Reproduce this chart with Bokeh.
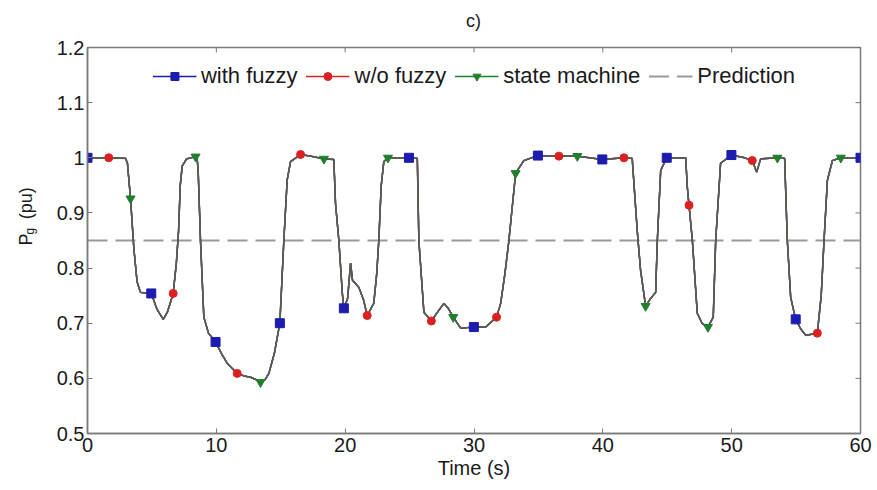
import numpy as np
from bokeh.plotting import figure
from bokeh.layouts import row, column
from bokeh.models import (Range1d, FixedTicker, Legend, LegendItem)
from bokeh.core.properties import value
from bokeh.embed import file_html
from bokeh.resources import INLINE

# ---- data -------------------------------------------------------------
time = [0, 1.65, 2.95, 3.1, 3.34, 3.6, 3.85, 4.11, 4.95, 5.4, 5.88, 6.2, 6.65, 6.9, 7.07, 7.2, 7.35, 7.69,
        8.39, 8.51, 8.6, 8.77, 9.03, 9.39, 9.94, 10.4, 10.85, 11.62, 12.2, 12.66, 13.05, 13.43, 13.8, 14.08,
        14.5, 14.93, 15.24, 15.5, 15.76, 16.54, 17.3, 18.35, 19.12, 19.25, 19.51, 19.78, 19.9, 20.19, 20.42,
        20.57, 21.06, 21.43, 21.71, 22.22, 22.45, 22.61, 22.8, 23.0, 23.32, 24.95, 25.6, 25.72, 26.11, 26.69,
        27.17, 27.66, 28.0, 28.39, 28.96, 29.99, 30.9, 31.75, 32.07, 32.4, 32.71, 33.23, 33.87, 34.96, 36.59,
        38.02, 39.96, 41.64, 42.28, 42.67, 42.93, 43.32, 43.71, 44.1, 44.23, 44.49, 44.96, 46.43, 46.56, 46.69,
        46.95, 47.33, 47.7, 48.16, 48.57, 48.76, 49.14, 49.98, 51.0, 51.6, 51.94, 52.25, 53.55, 54.11, 54.32,
        54.58, 54.97, 55.35, 55.75, 56.2, 56.65, 56.95, 57.17, 57.43, 57.82, 58.47, 60]
pg = [1.0, 1.0, 0.999, 0.99, 0.926, 0.835, 0.775, 0.756, 0.754, 0.725, 0.707, 0.72, 0.754, 0.81, 0.868, 0.95,
      0.985, 0.998, 1.002, 1.0, 0.97, 0.85, 0.711, 0.682, 0.666, 0.645, 0.627, 0.609, 0.604, 0.602, 0.598,
      0.593, 0.598, 0.609, 0.645, 0.70, 0.85, 0.96, 0.993, 1.006, 1.003, 0.998, 0.997, 0.917, 0.85, 0.754,
      0.727, 0.745, 0.809, 0.778, 0.765, 0.742, 0.714, 0.736, 0.79, 0.85, 0.95, 0.993, 1.0, 1.0, 0.999, 0.85,
      0.72, 0.704, 0.72, 0.736, 0.727, 0.711, 0.691, 0.693, 0.693, 0.711, 0.736, 0.79, 0.85, 0.972, 0.995,
      1.004, 1.003, 1.003, 0.997, 1.0, 0.999, 0.868, 0.796, 0.731, 0.745, 0.756, 0.85, 0.977, 1.0, 1.0, 0.946,
      0.914, 0.85, 0.718, 0.70, 0.693, 0.711, 0.85, 0.99, 1.005, 1.0, 0.995, 0.974, 0.998, 1.0, 0.999, 0.85,
      0.747, 0.707, 0.69, 0.678, 0.68, 0.682, 0.75, 0.85, 0.959, 0.995, 1.0, 1.0]

with_fuzzy_t = [0, 4.95, 9.94, 14.93, 19.9, 24.95, 29.99, 34.96, 39.96, 44.96, 49.98, 54.97, 60]
with_fuzzy_p = [1.0, 0.754, 0.666, 0.70, 0.727, 1.0, 0.693, 1.004, 0.997, 1.0, 1.005, 0.707, 1.0]
wo_fuzzy_t = [1.65, 6.65, 11.62, 16.54, 21.71, 26.69, 31.75, 36.59, 41.64, 46.69, 51.6, 56.65]
wo_fuzzy_p = [1.0, 0.754, 0.609, 1.006, 0.714, 0.704, 0.711, 1.003, 1.0, 0.914, 0.995, 0.682]
state_t = [3.34, 8.39, 13.43, 18.35, 23.32, 28.39, 33.23, 38.02, 43.32, 48.16, 53.55, 58.47]
state_p = [0.926, 1.002, 0.593, 0.998, 1.0, 0.711, 0.972, 1.003, 0.731, 0.693, 1.0, 1.0]
prediction = 0.85

x_ticks = [0, 10, 20, 30, 40, 50, 60]
y_ticks = [0.5, 0.6, 0.7, 0.8, 0.9, 1.0, 1.1, 1.2]

title_text = "c)"
# y-axis label pieces (P, subscript g, unit)
ylabel_parts = ["P", "g", "(pu)"]

# ---- styling ----------------------------------------------------------
FONT = "Liberation Sans"
TXT = "#1a1a1a"
AX = "#7a7a7a"
BLUE, RED, GREEN, GRAY = "#1c1cb0", "#dc2020", "#1f7f2a", "#9a9a9a"
X0, X1, Y0, Y1 = 0, 60, 0.5, 1.2
W, H = 877, 490
SIDE_W = 45
TOP_H = 34
MAIN_H = H - TOP_H


def blank(width, height):
    f = figure(width=width, height=height, output_backend="svg", toolbar_location=None,
               x_range=Range1d(0, width), y_range=Range1d(0, height),
               x_axis_type=None, y_axis_type=None, min_border=0)
    f.grid.visible = False
    f.outline_line_color = None
    f.background_fill_color = "white"
    f.border_fill_color = "white"
    return f


# ---- top strip with the panel title -----------------------------------
top = blank(W, TOP_H)
top.text(x=[473], y=[TOP_H - 20], text=[title_text], text_align="center", text_baseline="middle",
         text_font=value(FONT), text_font_size="18px", text_color=TXT)

# ---- side strip holding the rotated y label ---------------------------
side = blank(SIDE_W, MAIN_H)
side.text(x=[25, 25], y=[H - 268, H - 237], text=[ylabel_parts[0], ylabel_parts[2]],
          angle=np.pi / 2, text_align="left", text_baseline="alphabetic",
          text_font=value(FONT), text_font_size="18px", text_color=TXT)
side.text(x=[29], y=[H - 255], text=[ylabel_parts[1]],
          angle=np.pi / 2, text_align="left", text_baseline="alphabetic",
          text_font=value(FONT), text_font_size="12px", text_color=TXT)

# ---- main figure ------------------------------------------------------
p = figure(width=W - SIDE_W, height=MAIN_H, output_backend="svg", toolbar_location=None,
           x_range=Range1d(X0, X1), y_range=Range1d(Y0, Y1),
           min_border_left=87 - SIDE_W, min_border_right=17, min_border_top=47 - TOP_H,
           min_border_bottom=57)
p.background_fill_color = "white"
p.border_fill_color = "white"
p.grid.visible = False
p.outline_line_color = AX
p.outline_line_width = 1.5

for ax in (p.xaxis[0], p.yaxis[0]):
    ax.axis_line_color = AX
    ax.axis_line_width = 1.5
    ax.major_tick_line_color = AX
    ax.major_tick_in = 5
    ax.major_tick_out = 0
    ax.minor_tick_line_color = None
    ax.major_label_text_font = FONT
    ax.major_label_text_font_size = "20px"
    ax.major_label_text_color = TXT

p.xaxis.ticker = FixedTicker(ticks=x_ticks)
p.yaxis.ticker = FixedTicker(ticks=y_ticks)
p.yaxis.major_label_overrides = {1.0: "1"}
p.xaxis.major_label_standoff = 4
p.yaxis.major_label_standoff = 3
p.xaxis.axis_label = "Time (s)"
p.xaxis.axis_label_text_font = FONT
p.xaxis.axis_label_text_font_size = "20px"
p.xaxis.axis_label_text_font_style = "normal"
p.xaxis.axis_label_text_color = TXT
p.xaxis.axis_label_standoff = 2

# inward ticks on the top and right frame edges (box style)
tick_dx = 5 / 12.88
tick_dy = 5 / 552
p.segment(x0=[X1] * len(y_ticks), y0=y_ticks, x1=[X1 - tick_dx] * len(y_ticks), y1=y_ticks,
          line_color=AX, line_width=1)
p.segment(x0=x_ticks, y0=[Y1] * len(x_ticks), x1=x_ticks, y1=[Y1 - tick_dy] * len(x_ticks),
          line_color=AX, line_width=1)

# prediction line
pred = p.line(x=[X0, X1], y=[prediction, prediction], line_color=GRAY,
              line_width=2.2, line_dash="20 8")

# the three (overlapping) traces, grey overlay on top as in the reference
l_blue = p.line(x=time, y=pg, line_color=BLUE, line_width=1.4)
l_red = p.line(x=time, y=pg, line_color=RED, line_width=1.4)
l_green = p.line(x=time, y=pg, line_color=GREEN, line_width=1.4)
p.line(x=time, y=pg, line_color="#5a5a5a", line_width=1.6)

# markers
s_blue = p.scatter(x=with_fuzzy_t, y=with_fuzzy_p, marker="square", size=9,
                   fill_color=BLUE, line_color=BLUE)
s_red = p.scatter(x=wo_fuzzy_t, y=wo_fuzzy_p, marker="circle", size=8,
                  fill_color=RED, line_color=RED)
s_green = p.scatter(x=state_t, y=state_p, marker="inverted_triangle", size=9,
                    fill_color=GREEN, line_color=GREEN)

legend = Legend(items=[
    LegendItem(label="with fuzzy", renderers=[l_blue, s_blue]),
    LegendItem(label="w/o fuzzy", renderers=[l_red, s_red]),
    LegendItem(label="state machine", renderers=[l_green, s_green]),
    LegendItem(label="Prediction", renderers=[pred]),
], orientation="horizontal", location="top_center")
legend.label_text_font = FONT
legend.label_text_font_size = "22px"
legend.label_text_color = TXT
legend.glyph_width = 44
legend.label_standoff = 5
legend.spacing = 8
legend.padding = 4
legend.margin = 12
legend.border_line_alpha = 0
legend.background_fill_alpha = 0
p.add_layout(legend)

layout = column(top, row(side, p))
open("out.html", "w").write(file_html(layout, INLINE))
